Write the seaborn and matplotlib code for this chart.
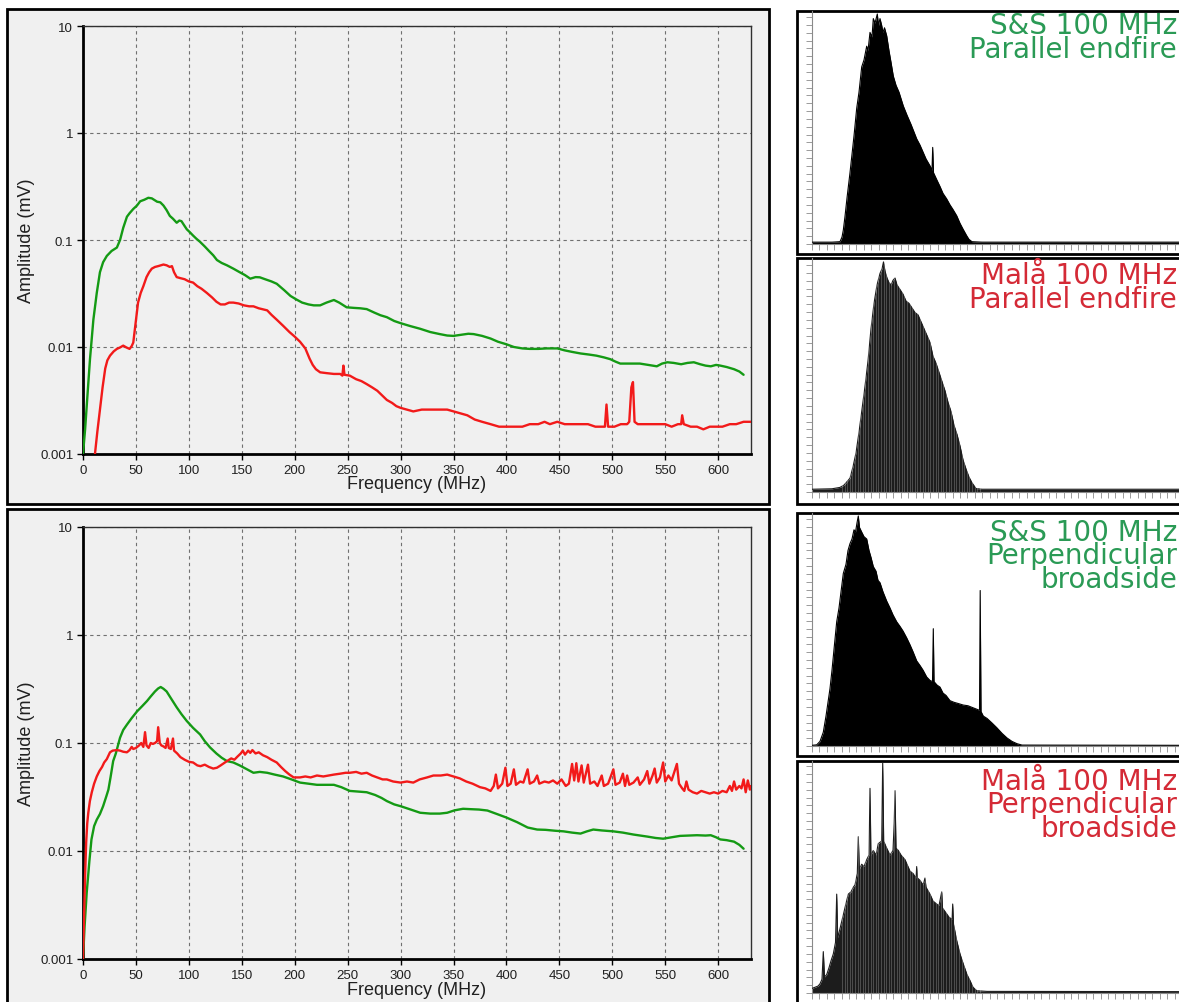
import numpy as np
import pandas as pd
import matplotlib
matplotlib.use("Agg")
import matplotlib.pyplot as plt
import seaborn as sns
from matplotlib.patches import Rectangle

# ---------------- data ----------------
FREQ_TICKS = [0, 50, 100, 150, 200, 250, 300, 350, 400, 450, 500, 550, 600]
AMP_TICKS = [0.001, 0.01, 0.1, 1, 10]
AMP_LABELS = ["0.001", "0.01", "0.1", "1", "10"]

# Top panel: parallel endfire (freq MHz, amplitude mV)
TOP_SS = [(0, 0.001), (2, 0.0017), (4, 0.0033), (6.6, 0.0077), (9.8, 0.018), (13, 0.032), (16, 0.05),
          (19, 0.062), (22.5, 0.071), (27, 0.079), (32, 0.085), (35, 0.10), (38, 0.13), (41.5, 0.165),
          (44, 0.178), (47.5, 0.195), (51, 0.21), (54, 0.23), (58, 0.238), (61.7, 0.248), (65, 0.245),
          (70, 0.228), (73, 0.225), (76, 0.21), (79, 0.19), (82, 0.168), (85, 0.158), (88.5, 0.145),
          (91, 0.152), (93, 0.15), (96, 0.135), (98, 0.126), (101, 0.118), (104, 0.11), (107, 0.103),
          (110.6, 0.096), (115, 0.087), (119, 0.079), (123, 0.072), (126.5, 0.065), (131, 0.061),
          (136, 0.058), (142, 0.054), (148, 0.05), (153, 0.047), (158, 0.0435), (163, 0.045),
          (167, 0.0448), (172, 0.043), (178, 0.041), (183, 0.039), (190, 0.034), (196, 0.030),
          (201, 0.028), (207, 0.026), (213, 0.025), (218, 0.0245), (224, 0.0245), (230, 0.026),
          (237, 0.0275), (242, 0.026), (249, 0.0235), (256, 0.0232), (262, 0.023), (268, 0.0226),
          (275, 0.021), (281, 0.0198), (287, 0.019), (294, 0.0175), (300, 0.0167), (309, 0.0157),
          (318.5, 0.0148), (328, 0.0138), (337, 0.0132), (344, 0.0128), (350, 0.0127), (357, 0.013),
          (364, 0.0133), (369, 0.0132), (377, 0.0127), (385, 0.012), (392, 0.0112), (400, 0.0106),
          (407, 0.01), (415, 0.0097), (422, 0.0096), (430, 0.0096), (438, 0.0097), (448, 0.0097),
          (455, 0.0093), (462, 0.009), (470, 0.0087), (478, 0.0085), (485, 0.0083), (492, 0.008),
          (498, 0.0077), (503, 0.0073), (507.5, 0.007), (515, 0.007), (520, 0.007), (526, 0.007),
          (534, 0.0068), (538, 0.0067), (542, 0.0066), (547, 0.007), (552, 0.0072), (558, 0.0071),
          (565, 0.0069), (571, 0.0071), (577, 0.0072), (583, 0.0069), (588, 0.0067), (593, 0.0066),
          (598, 0.0068), (602, 0.0067), (608, 0.0065), (615, 0.0062), (620, 0.0059), (624, 0.0055)]

TOP_MALA = [(11.3, 0.001), (13.5, 0.0016), (16, 0.0026), (18.5, 0.0042), (21, 0.0063), (23, 0.0075),
            (25.5, 0.0083), (29, 0.0091), (32, 0.0096), (35, 0.0099), (38, 0.0103), (41, 0.0099),
            (44, 0.0096), (46, 0.0102), (47.5, 0.011), (49.5, 0.016), (52, 0.026), (54.5, 0.032),
            (57, 0.037), (60, 0.045), (62.5, 0.05), (65, 0.054), (68, 0.056), (71, 0.057), (73.5, 0.058),
            (76, 0.059), (79, 0.058), (82, 0.056), (84, 0.057), (86, 0.05), (88.5, 0.045), (92, 0.044),
            (96, 0.043), (100, 0.041), (104, 0.040), (108, 0.037), (112, 0.035), (117, 0.032),
            (122, 0.029), (126, 0.0265), (130, 0.025), (134, 0.025), (138, 0.026), (142, 0.026),
            (147, 0.0255), (152, 0.0245), (157, 0.024), (161, 0.024), (166, 0.023), (170, 0.0225),
            (174, 0.022), (178, 0.02), (183, 0.018), (189, 0.0158), (195, 0.0138), (200, 0.0125),
            (205, 0.0112), (210, 0.0097), (214, 0.0078), (217, 0.0068), (220, 0.0062), (224, 0.0058),
            (230, 0.0057), (237, 0.0056), (243, 0.0056), (245, 0.0054), (246, 0.0067), (247, 0.0055),
            (252, 0.0054), (258, 0.005), (263, 0.0048), (268, 0.0045), (273, 0.0042), (278, 0.0039),
            (283, 0.0035), (287, 0.0032), (292, 0.003), (296, 0.0028), (300, 0.0027), (306, 0.0026),
            (312, 0.0025), (320, 0.0026), (328, 0.0026), (336, 0.0026), (344, 0.0026), (350, 0.0025),
            (356, 0.0024), (363, 0.0023), (370, 0.0021), (377, 0.002), (385, 0.0019), (393, 0.0018),
            (400, 0.0018), (407, 0.0018), (415, 0.0018), (422, 0.0019), (430, 0.0019), (436, 0.002),
            (441, 0.0019), (448, 0.002), (455, 0.0019), (462, 0.0019), (470, 0.0019), (477, 0.0019),
            (484, 0.0018), (490, 0.0018), (493, 0.0018), (494.5, 0.0029), (496, 0.0018), (502, 0.0018),
            (508, 0.0019), (514, 0.0019), (516, 0.002), (518, 0.0042), (519.5, 0.0047), (521, 0.002),
            (524, 0.0019), (530, 0.0019), (537, 0.0019), (544, 0.0019), (550, 0.0019), (556, 0.0018),
            (562, 0.0019), (565, 0.0019), (566, 0.0023), (567.5, 0.0019), (574, 0.0018), (580, 0.0018),
            (586, 0.0017), (592, 0.0018), (598, 0.0018), (604, 0.0018), (611, 0.0019), (617, 0.0019),
            (624, 0.002), (631, 0.002)]

# Bottom panel: perpendicular broadside
BOT_SS = [(0, 0.001), (1.5, 0.002), (3.5, 0.0041), (6, 0.008), (8, 0.0128), (10.5, 0.017), (13, 0.0195),
          (16, 0.022), (19, 0.026), (22, 0.032), (24, 0.037), (26, 0.048), (28.5, 0.068), (31, 0.08),
          (35, 0.112), (38, 0.132), (41.5, 0.148), (46, 0.17), (51, 0.196), (56, 0.22), (60.5, 0.245),
          (64, 0.27), (68, 0.30), (71, 0.32), (73.4, 0.33), (76, 0.318), (79, 0.30), (83, 0.26),
          (88.5, 0.214), (93, 0.185), (98, 0.16), (104, 0.138), (110.6, 0.12), (115, 0.104), (120, 0.091),
          (126, 0.08), (131, 0.073), (136, 0.068), (142, 0.066), (148, 0.062), (155, 0.057), (161, 0.053),
          (167, 0.054), (174, 0.053), (181, 0.051), (189, 0.049), (197, 0.046), (205, 0.043), (213, 0.042),
          (221, 0.041), (229, 0.041), (237, 0.041), (244, 0.039), (252, 0.036), (260, 0.0355), (268, 0.035),
          (276, 0.033), (282, 0.031), (287, 0.029), (294, 0.027), (300, 0.026), (309, 0.0243),
          (318.5, 0.0226), (328, 0.0222), (337, 0.0222), (344, 0.0226), (351, 0.0238), (359, 0.0246),
          (366, 0.0244), (374, 0.0242), (382, 0.0237), (391, 0.022), (400, 0.0204), (410, 0.0185),
          (420, 0.0165), (429, 0.0158), (437, 0.0157), (446, 0.0154), (454, 0.0152), (462, 0.0148),
          (470, 0.0145), (476, 0.0152), (482, 0.0158), (490, 0.0155), (501, 0.0152), (510, 0.0148),
          (520, 0.0142), (533, 0.0136), (541, 0.0132), (548, 0.013), (556, 0.0134), (564, 0.0138),
          (572, 0.0139), (580, 0.014), (588, 0.0139), (593, 0.014), (598, 0.0134), (602, 0.0128),
          (608, 0.0126), (615, 0.0122), (620, 0.0114), (624, 0.0105)]

BOT_MALA = [(0, 0.001), (1, 0.0025), (2, 0.006), (3, 0.012), (4, 0.018), (5, 0.0226), (6.5, 0.029),
            (8.3, 0.035), (10.5, 0.042), (13, 0.049), (15.5, 0.055), (18, 0.06), (20, 0.066), (22.5, 0.071),
            (25.5, 0.082), (28, 0.085), (32, 0.086), (35, 0.085), (38, 0.083), (41.5, 0.082), (44, 0.086),
            (46, 0.092), (47.5, 0.088), (50, 0.09), (53, 0.095), (55, 0.1), (57, 0.092), (58.6, 0.126),
            (60, 0.095), (62, 0.09), (64, 0.1), (66, 0.098), (68, 0.1), (70, 0.104), (71, 0.14),
            (72.5, 0.1), (74, 0.095), (76, 0.093), (78, 0.09), (80, 0.11), (81, 0.09), (83, 0.088),
            (85, 0.11), (86, 0.085), (89, 0.08), (92, 0.074), (96, 0.07), (100, 0.067), (104, 0.066),
            (108, 0.062), (111, 0.061), (115, 0.063), (119, 0.06), (123, 0.058), (126.5, 0.059),
            (130, 0.062), (133, 0.065), (136, 0.068), (140, 0.072), (143, 0.07), (146, 0.075), (149, 0.08),
            (151, 0.085), (153, 0.078), (156, 0.085), (158, 0.081), (160, 0.086), (163, 0.08), (166, 0.082),
            (170, 0.077), (174, 0.074), (178, 0.07), (183, 0.066), (187, 0.06), (191, 0.055), (195, 0.051),
            (199, 0.048), (205, 0.048), (210, 0.049), (215, 0.048), (221, 0.05), (227, 0.049), (232, 0.05),
            (237, 0.051), (243, 0.052), (248, 0.053), (252, 0.053), (258, 0.054), (263, 0.052),
            (268, 0.053), (273, 0.05), (278, 0.048), (283, 0.046), (287, 0.046), (293, 0.044), (300, 0.043),
            (306, 0.044), (312, 0.043), (318, 0.046), (325, 0.048), (331, 0.05), (338, 0.05), (344, 0.051),
            (350, 0.049), (356, 0.047), (362, 0.044), (368, 0.042), (375, 0.039), (380, 0.038),
            (385, 0.036), (388, 0.04), (390, 0.051), (392, 0.038), (396, 0.042), (399, 0.059), (401, 0.04),
            (404, 0.042), (407, 0.057), (409, 0.041), (413, 0.044), (416, 0.043), (420, 0.057),
            (422, 0.042), (426, 0.044), (429, 0.05), (431, 0.042), (436, 0.044), (440, 0.043),
            (444, 0.045), (448, 0.042), (452, 0.046), (456, 0.04), (459, 0.042), (462, 0.064),
            (464, 0.045), (466, 0.065), (468, 0.044), (471, 0.062), (473, 0.043), (477, 0.063),
            (479, 0.042), (483, 0.044), (486, 0.04), (490, 0.05), (492, 0.04), (496, 0.042), (501, 0.057),
            (503, 0.041), (507, 0.043), (510, 0.052), (512, 0.04), (514, 0.05), (516, 0.041), (520, 0.043),
            (524, 0.048), (526, 0.041), (530, 0.046), (533, 0.055), (535, 0.042), (538, 0.05),
            (540, 0.058), (542, 0.043), (545, 0.048), (548, 0.066), (550, 0.044), (553, 0.05),
            (556, 0.045), (561, 0.064), (563, 0.042), (566, 0.038), (568, 0.036), (570, 0.044),
            (572, 0.037), (576, 0.035), (580, 0.034), (584, 0.036), (588, 0.035), (592, 0.034),
            (596, 0.035), (600, 0.034), (604, 0.036), (608, 0.035), (611, 0.04), (613, 0.036),
            (615, 0.044), (617, 0.037), (620, 0.04), (622, 0.038), (624, 0.046), (626, 0.035),
            (628, 0.045), (630, 0.037), (631, 0.04)]

# Right-hand spectra (bin position, relative amplitude)
SPEC_SS_PAR = [(0, 0.008), (20, 0.008), (28, 0.01), (30, 0.03), (31.3, 0.06), (33, 0.12), (35, 0.2),
               (38, 0.31), (40, 0.39), (42, 0.47), (44.7, 0.59), (47, 0.66), (49.7, 0.77), (52, 0.80),
               (54.7, 0.86), (56, 0.84), (58, 0.92), (60, 0.90), (61.3, 0.98), (63, 0.96), (65.3, 1.0),
               (66.5, 0.95), (68, 0.98), (69.7, 0.95), (71, 0.92), (72.5, 0.94), (74.7, 0.905), (77, 0.84),
               (79, 0.79), (81.3, 0.73), (84, 0.69), (87, 0.66), (91.3, 0.60), (95, 0.56), (99, 0.52),
               (104.7, 0.457), (108, 0.43), (111, 0.40), (114, 0.37), (118, 0.34), (120, 0.32),
               (120.7, 0.42), (121.5, 0.31), (124.7, 0.28), (128, 0.25), (131, 0.22), (134.7, 0.196),
               (138, 0.17), (141, 0.15), (144.7, 0.123), (148, 0.09), (151, 0.065), (154.7, 0.036),
               (157, 0.02), (160, 0.01), (170, 0.008), (367, 0.008)]

SPEC_MALA_PAR = [(0, 0.012), (20, 0.014), (28, 0.02), (32, 0.03), (35, 0.045), (38, 0.06), (41, 0.11),
                 (44, 0.17), (47, 0.26), (50, 0.36), (53, 0.46), (56, 0.57), (59, 0.71), (62, 0.82),
                 (65, 0.90), (68, 0.95), (70, 0.97), (71.5, 1.0), (73, 0.96), (75, 0.93), (77, 0.91),
                 (79, 0.90), (81, 0.92), (83, 0.93), (85, 0.90), (88, 0.88), (91, 0.86), (94, 0.83),
                 (97, 0.82), (100, 0.80), (103, 0.78), (106, 0.77), (109, 0.74), (112, 0.71), (115, 0.68),
                 (118, 0.65), (121, 0.59), (124, 0.56), (127, 0.52), (130, 0.48), (133, 0.44), (136, 0.39),
                 (139, 0.35), (142, 0.29), (145, 0.25), (148, 0.20), (151, 0.14), (154, 0.10), (157, 0.065),
                 (160, 0.04), (164, 0.015), (170, 0.012), (367, 0.012)]

SPEC_SS_PERP = [(0, 0.003), (4.7, 0.005), (8, 0.02), (11.3, 0.06), (14, 0.13), (16, 0.19), (18, 0.25),
                (20, 0.33), (22, 0.42), (24.7, 0.54), (27, 0.60), (29, 0.67), (31.3, 0.75), (34, 0.79),
                (36, 0.85), (38, 0.88), (40, 0.90), (42, 0.94), (43.5, 0.93), (45, 0.97), (46.3, 1.0),
                (47.5, 0.95), (49.7, 0.93), (52, 0.91), (54.7, 0.90), (57, 0.85), (59, 0.82), (61.3, 0.78),
                (64, 0.76), (66, 0.72), (68, 0.71), (71, 0.67), (74.7, 0.63), (78, 0.60), (81, 0.57),
                (84.7, 0.54), (88, 0.52), (91, 0.50), (94.7, 0.47), (98, 0.44), (101, 0.41), (104.7, 0.37),
                (108, 0.35), (111, 0.33), (114.7, 0.30), (118, 0.285), (120.5, 0.28), (121.3, 0.51),
                (122, 0.28), (125, 0.265), (128, 0.256), (131, 0.23), (134, 0.22), (138, 0.197),
                (142, 0.19), (146, 0.185), (151.3, 0.178), (156, 0.175), (160, 0.168), (164.7, 0.16),
                (167.5, 0.155), (168.2, 0.676), (169, 0.15), (171.3, 0.13), (175, 0.12), (180, 0.10),
                (184.7, 0.08), (190, 0.055), (195, 0.035), (200, 0.02), (205, 0.01), (210, 0.004),
                (367, 0.003)]

SPEC_MALA_PERP = [(0, 0.02), (3, 0.025), (6, 0.03), (8, 0.04), (10, 0.06), (11.3, 0.18), (12.5, 0.07),
                  (14.7, 0.08), (17, 0.11), (19, 0.14), (21.3, 0.17), (23.5, 0.22), (24.7, 0.43),
                  (25.7, 0.24), (28, 0.28), (31.3, 0.34), (34, 0.39), (36.3, 0.43), (39, 0.44),
                  (41.3, 0.46), (43, 0.47), (45.3, 0.52), (46.3, 0.68), (47.3, 0.54), (49.7, 0.56),
                  (52, 0.55), (54.7, 0.58), (57, 0.60), (58, 0.89), (59, 0.60), (61.3, 0.62), (64, 0.60),
                  (66.3, 0.65), (69.5, 0.66), (70.7, 1.0), (71.7, 0.66), (74.7, 0.63), (78, 0.60),
                  (81, 0.62), (82.2, 0.74), (83, 0.88), (84, 0.63), (86.3, 0.62), (89, 0.60), (93, 0.58),
                  (96, 0.55), (98, 0.53), (101, 0.52), (104, 0.50), (104.7, 0.55), (105.5, 0.50),
                  (108, 0.49), (111, 0.47), (113, 0.50), (114, 0.46), (118, 0.43), (121, 0.40),
                  (124.7, 0.387), (127, 0.38), (129.7, 0.44), (130.5, 0.37), (134.7, 0.344), (137, 0.33),
                  (140, 0.32), (140.7, 0.387), (141.5, 0.30), (144.7, 0.228), (148, 0.17), (151.3, 0.126),
                  (155, 0.08), (158, 0.054), (161, 0.025), (164.7, 0.01), (175, 0.007), (367, 0.006)]

PANEL_TEXT = [
    ["S&S 100 MHz", "Parallel endfire"],
    ["Malå 100 MHz", "Parallel endfire"],
    ["S&S 100 MHz", "Perpendicular", "broadside"],
    ["Malå 100 MHz", "Perpendicular", "broadside"],
]

# ---------------- styling ----------------
sns.set_theme(style="white")
plt.rcParams["font.family"] = ["Liberation Sans", "DejaVu Sans"]

GREEN = "#149a14"
RED = "#f21a1a"
GREEN_TXT = "#2a9a55"
RED_TXT = "#d42a36"
PANEL_BG = "#f0f0f0"

W, H = 1179, 1003
fig = plt.figure(figsize=(W / 100, H / 100), dpi=100)
fig.patch.set_facecolor("white")


def fx(px):
    return px / W


def fy(py):
    return 1 - py / H


def frame(x0, y0, x1, y1, face, lw=2.0):
    fig.patches.append(Rectangle((fx(x0), fy(y1)), fx(x1) - fx(x0), fy(y0) - fy(y1),
                                 transform=fig.transFigure, facecolor=face,
                                 edgecolor="black", lw=lw, zorder=-5))


# outer frames
frame(7, 10, 769, 505, PANEL_BG)
frame(7, 510, 769, 1008, PANEL_BG)
frame(797, 12, 1185, 255, "white")
frame(797, 259, 1185, 505, "white")
frame(797, 514, 1185, 757, "white")
frame(797, 762, 1185, 1008, "white")


def to_df(pairs):
    return pd.DataFrame(pairs, columns=["freq", "amp"])


def left_axes(top_px, bottom_px, ss, mala):
    ax = fig.add_axes([fx(83), fy(bottom_px), fx(751) - fx(83), fy(top_px) - fy(bottom_px)])
    ax.set_facecolor(PANEL_BG)
    sns.lineplot(data=to_df(ss), x="freq", y="amp", color=GREEN, lw=1.7, estimator=None,
                 sort=False, ax=ax, zorder=3)
    sns.lineplot(data=to_df(mala), x="freq", y="amp", color=RED, lw=1.7, estimator=None,
                 sort=False, ax=ax, zorder=4)
    ax.set_yscale("log")
    ax.set_ylim(0.001, 10)
    ax.set_xlim(0, 631)
    ax.set_xticks(FREQ_TICKS)
    ax.set_xticklabels([str(t) for t in FREQ_TICKS])
    ax.set_yticks(AMP_TICKS)
    ax.set_yticklabels(AMP_LABELS)
    ax.minorticks_off()
    ax.grid(True, which="major", linestyle=(0, (3, 3)), color="#707070", lw=0.8, zorder=1)
    ax.set_axisbelow(True)
    for s in ["left", "bottom"]:
        ax.spines[s].set_color("black")
        ax.spines[s].set_linewidth(2.0)
    for s in ["top", "right"]:
        ax.spines[s].set_color("#303030")
        ax.spines[s].set_linewidth(1.0)
    ax.tick_params(axis="both", direction="out", length=4, width=1, color="black",
                   labelsize=9.5, labelcolor="#202020", pad=3, left=True, bottom=True)
    ax.set_xlabel("Frequency (MHz)", fontsize=13, color="#202020")
    ax.xaxis.set_label_coords(0.5, -0.05)
    ax.set_ylabel("Amplitude (mV)", fontsize=13, color="#202020")
    ax.yaxis.set_label_coords(-0.072, 0.5)
    return ax


left_axes(27, 455, TOP_SS, TOP_MALA)
left_axes(528, 960, BOT_SS, BOT_MALA)


def right_axes(top_px, base_px, ytop, pairs, fill, stripes, lines, color, last_baseline):
    ax = fig.add_axes([fx(812), fy(base_px), fx(1179) - fx(812), fy(top_px) - fy(base_px)])
    ax.patch.set_alpha(0)
    df = pd.DataFrame(pairs, columns=["bin", "rel"])
    ax.fill_between(df["bin"], 0, df["rel"], color=fill, lw=0, zorder=2)
    sns.lineplot(data=df, x="bin", y="rel", color=fill, lw=0.8, estimator=None, sort=False,
                 ax=ax, zorder=3)
    if stripes:
        ax.vlines(np.arange(30, 170, 2.6), 0, 1.0, color="white", lw=0.5, alpha=0.3, zorder=4)
    ax.set_xlim(0, 367)
    ax.set_ylim(0, ytop)
    ax.set_xlabel("")
    ax.set_ylabel("")
    ax.set_xticks(np.arange(0, 367, 7.4))
    ax.set_yticks(np.arange(0, 1.0, 0.034))
    ax.set_xticklabels([])
    ax.set_yticklabels([])
    ax.tick_params(axis="both", direction="out", length=4, width=0.6, color="#8a8a8a",
                   left=True, bottom=True)
    for s in ["top", "right"]:
        ax.spines[s].set_visible(False)
    for s in ["left", "bottom"]:
        ax.spines[s].set_color("#8a8a8a")
        ax.spines[s].set_linewidth(0.8)
    fig.text(fx(1177), fy(last_baseline), "\n".join(lines), ha="right", va="baseline",
             multialignment="right", fontsize=20, linespacing=0.8, color=color,
             family=["DejaVu Sans"], zorder=10)
    return ax


right_axes(12, 245, 1.013, SPEC_SS_PAR, "black", False, PANEL_TEXT[0], GREEN_TXT, 58)
right_axes(259, 493, 1.017, SPEC_MALA_PAR, "#1c1c1c", True, PANEL_TEXT[1], RED_TXT, 308)
right_axes(514, 747, 1.013, SPEC_SS_PERP, "black", False, PANEL_TEXT[2], GREEN_TXT, 588)
right_axes(762, 994, 1.009, SPEC_MALA_PERP, "#1c1c1c", True, PANEL_TEXT[3], RED_TXT, 837)

fig.savefig("out.png", dpi=100)
